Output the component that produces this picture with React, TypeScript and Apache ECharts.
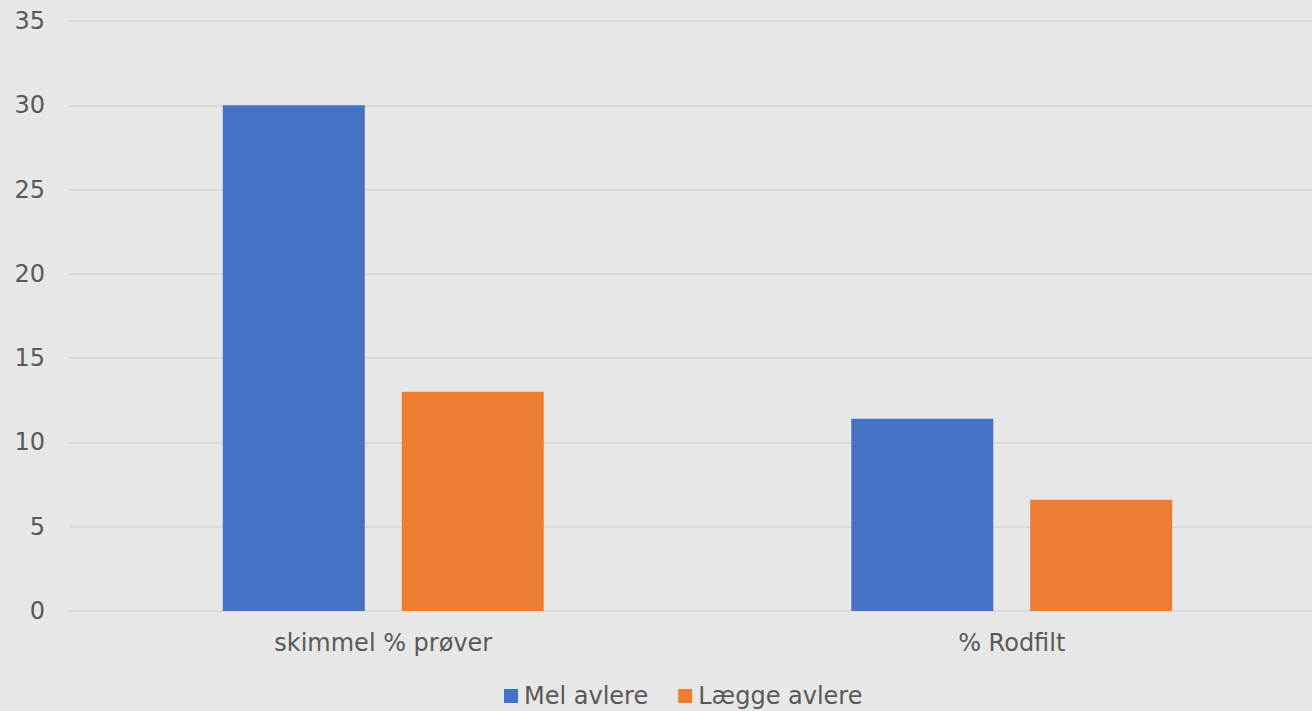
import React, { useEffect, useRef } from "react";
import * as echarts from "echarts";

const categories = ["skimmel % prøver", "% Rodfilt"];
const melAvlere = [30, 11.4];
const laeggeAvlere = [13, 6.6];
const seriesNames = ["Mel avlere", "Lægge avlere"];

export default function App() {
  const ref = useRef<HTMLDivElement>(null);
  useEffect(() => {
    if (!ref.current) return;
    const chart = echarts.init(ref.current, undefined, { renderer: "svg" });
    const font = "'DejaVu Sans', Verdana, sans-serif";
    chart.setOption({
      animation: false,
      backgroundColor: "#e7e7e7",
      textStyle: { fontFamily: font },
      grid: {
        left: 69,
        top: 21,
        width: 1257,
        height: 590,
        containLabel: false,
        outerBoundsMode: "none",
      },
      legend: {
        top: 679,
        left: 499,
        icon: "rect",
        itemWidth: 14,
        itemHeight: 14,
        itemGap: 30,
        textStyle: { fontSize: 24, color: "#595959", fontFamily: font, padding: [0, 0, 0, 1] },
        data: seriesNames,
      },
      xAxis: {
        type: "category",
        data: categories,
        axisLine: { show: true, lineStyle: { color: "#d9d9d9", width: 2 } },
        axisTick: { show: false },
        axisLabel: { fontSize: 24, color: "#595959", margin: 20, fontFamily: font },
      },
      yAxis: {
        type: "value",
        min: 0,
        max: 35,
        interval: 5,
        axisLine: { show: false },
        axisTick: { show: false },
        splitLine: { lineStyle: { color: "#d9d9d9", width: 2 } },
        axisLabel: { fontSize: 24, color: "#595959", margin: 24, fontFamily: font },
      },
      series: [
        {
          name: seriesNames[0],
          type: "bar",
          data: melAvlere,
          barWidth: 142,
          barGap: "26%",
          itemStyle: { color: "#4472c4" },
        },
        {
          name: seriesNames[1],
          type: "bar",
          data: laeggeAvlere,
          barWidth: 142,
          barGap: "26%",
          itemStyle: { color: "#ed7d31" },
        },
      ],
    });
    return () => chart.dispose();
  }, []);
  return (
    <div
      ref={ref}
      style={{ position: "fixed", left: 0, top: 0, width: 1312, height: 711 }}
    />
  );
}
